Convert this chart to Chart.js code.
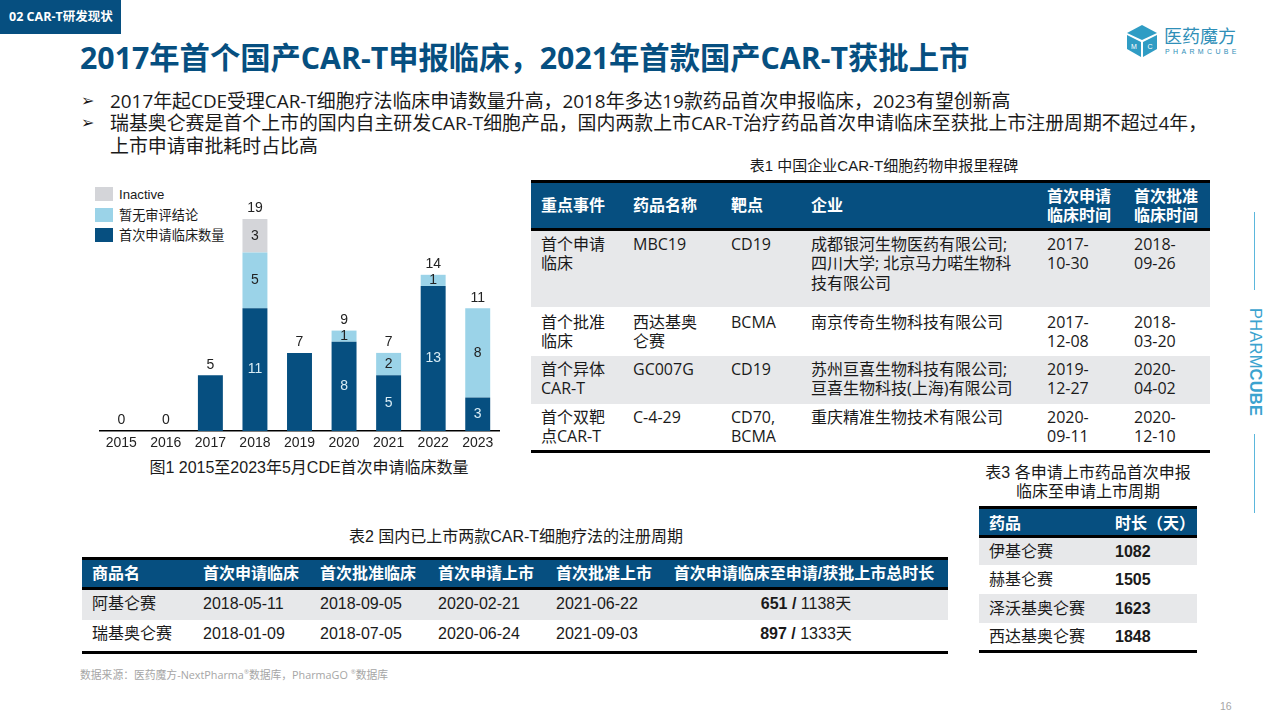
<!DOCTYPE html>
<html lang="zh">
<head>
<meta charset="utf-8">
<script src="https://cdn.jsdelivr.net/npm/chart.js@4"></script>
<style>
  html, body { margin: 0; background: #fff; }
  #page { position: relative; width: 1280px; height: 720px; overflow: hidden; font-family: "Liberation Sans", "Noto Sans CJK SC", sans-serif; color: #1a1a1a; }
  #page > * { position: absolute; }
  .yahei { font-family: "Open Sans", "Noto Sans CJK SC", sans-serif; }
  #tag { left: 0; top: 0; width: 121px; height: 34px; background: #064f80; color: #fff; font-size: 12.5px; font-weight: 700; line-height: 34px; padding-left: 9px; box-sizing: border-box; white-space: nowrap; }
  #title { left: 80px; top: 38px; font-size: 30.3px; font-weight: 700; line-height: 40px; color: #064f80; white-space: nowrap; }
  .bullet { left: 81px; font-size: 16px; line-height: 22px; font-family: "DejaVu Sans", sans-serif; }
  .point { left: 110px; font-size: 18.9px; line-height: 22px; white-space: nowrap; }
  .cap { font-size: 16px; line-height: 19px; text-align: center; white-space: nowrap; }
  table { border-collapse: separate; border-spacing: 0; table-layout: fixed; }
  td, th { padding: 0; text-align: left; font-weight: 400; overflow: hidden; }
  th { background: #064f80; color: #fff; font-weight: 700; border-top: 3px solid #000; border-bottom: 3px solid #000; }
  tr.alt td { background: #e7e8ea; }
  tr:last-child td { border-bottom: 3px solid #000; }
  #t1 td, #t1 th { font-size: 16px; line-height: 19.3px; padding-left: 10px; vertical-align: top; }
  #t1 th { vertical-align: middle; font-size: 16px; padding-top: 1px; }
  #t1 td { padding-top: 4px; box-sizing: border-box; }
  #t1 tr:nth-child(3) td { padding-top: 6px; }
  #t2 td, #t2 th { font-size: 16px; line-height: 20px; padding-left: 10px; vertical-align: middle; white-space: nowrap; }
  #t2 td { padding-bottom: 3px; box-sizing: border-box; }
  #t2 th.c { padding-right: 4px; box-sizing: border-box; }
  #t3 td, #t3 th { font-size: 16px; line-height: 20px; padding-left: 10px; vertical-align: middle; white-space: nowrap; }
  #t3 td { padding-top: 1px; box-sizing: border-box; }
  #t3 th { padding-top: 3px; box-sizing: border-box; }
  .c { text-align: center !important; padding-left: 0 !important; }
  #legend { left: 95px; top: 184px; font-size: 13.2px; }
  #legend div { display: flex; align-items: center; height: 20.4px; white-space: nowrap; }
  #legend i { width: 18px; height: 14px; margin-right: 6px; display: block; }
  #chart { left: 99px; top: 190px; }
</style>
</head>
<body>
<div id="page">
  <div id="tag" class="yahei">02 CAR-T研发现状</div>
  <div id="title" class="yahei">2017年首个国产CAR-T申报临床，2021年首款国产CAR-T获批上市</div>

  <div class="bullet" style="top:90px">➢</div>
  <div class="bullet" style="top:112px">➢</div>
  <div class="point yahei" style="top:90px">2017年起CDE受理CAR-T细胞疗法临床申请数量升高，2018年多达19款药品首次申报临床，2023有望创新高</div>
  <div class="point yahei" style="top:112px">瑞基奥仑赛是首个上市的国内自主研发CAR-T细胞产品，国内两款上市CAR-T治疗药品首次申请临床至获批上市注册周期不超过4年，</div>
  <div class="point yahei" style="top:135px">上市申请审批耗时占比高</div>

  <div id="legend"></div>
  <canvas id="chart" width="401" height="265"></canvas>
  <div class="cap" style="left:99px;width:420px;top:458px">图1 2015至2023年5月CDE首次申请临床数量</div>

  <div class="cap" style="left:531px;width:706px;top:156px;font-size:15px">表1 中国企业CAR-T细胞药物申报里程碑</div>
  <table id="t1" class="yahei" style="left:531px;top:180px;width:679px"></table>

  <div class="cap" style="left:82px;width:868px;top:527px">表2 国内已上市两款CAR-T细胞疗法的注册周期</div>
  <table id="t2" style="left:82px;top:557px;width:866px"></table>

  <div class="cap" style="left:970px;width:236px;top:463px">表3 各申请上市药品首次申报<br>临床至申请上市周期</div>
  <table id="t3" style="left:979px;top:506px;width:218px"></table>

  <div class="yahei" style="left:80px;top:666px;font-size:10.8px;color:#a6a6a6;white-space:nowrap">数据来源：医药魔方-NextPharma<sup style="font-size:6px">®</sup>数据库，PharmaGO <sup style="font-size:6px">®</sup>数据库</div>
  <div style="left:1220px;top:700px;font-size:10.5px;color:#a6a6a6">16</div>

  <!-- logo -->
  <svg style="left:1126px;top:24px" width="32" height="34" viewBox="0 0 32 34">
    <polygon points="16,1 31,9 16,16 1,9" fill="#2f9cc4"/>
    <polygon points="1,11 15,18 15,33 1,25" fill="#2f9cc4"/>
    <polygon points="31,11 17,18 17,33 31,25" fill="#2f9cc4"/>
    <text x="8" y="25" font-size="7" fill="#fff" text-anchor="middle" font-family="Liberation Sans">M</text>
    <text x="24" y="25" font-size="7" fill="#fff" text-anchor="middle" font-family="Liberation Sans">C</text>
  </svg>
  <div style="left:1164px;top:26px;font-size:18px;line-height:22px;color:#2f8fb8;white-space:nowrap">医药魔方</div>
  <div style="left:1165px;top:47px;font-size:7px;line-height:9px;letter-spacing:3.35px;color:#2f8fb8;white-space:nowrap">PHARMCUBE</div>

  <!-- side mark -->
  <div style="left:1254px;top:212px;width:1px;height:78px;background:#5bb7dc"></div>
  <div style="left:1254px;top:434px;width:1px;height:79px;background:#5bb7dc"></div>
  <div style="left:1247px;top:308px;writing-mode:vertical-rl;font-size:16.5px;line-height:17px;color:#3ba3cf;white-space:nowrap;letter-spacing:.2px">PHARM<b>CUBE</b></div>
</div>

<script>
const years = ['2015', '2016', '2017', '2018', '2019', '2020', '2021', '2022', '2023']
const firstApply = [0, 0, 5, 11, 7, 8, 5, 13, 3]
const noResult = [0, 0, 0, 5, 0, 1, 2, 1, 8]
const inactive = [0, 0, 0, 3, 0, 0, 0, 0, 0]
const totals = [0, 0, 5, 19, 7, 9, 7, 14, 11]
// 2017 and 2019 carry no label inside the bar
const firstApplyLabels = [null, null, null, 11, null, 8, 5, 13, 3]

const legendNames = ['Inactive', '暂无审评结论', '首次申请临床数量']
const legendColors = ['#d4d5d9', '#9bd3e8', '#064f80']

const t1Head = ['重点事件', '药品名称', '靶点', '企业', '首次申请<br>临床时间', '首次批准<br>临床时间']
const t1Rows = [
  ['首个申请<br>临床', 'MBC19', 'CD19', '成都银河生物医药有限公司;<br>四川大学; 北京马力喏生物科<br>技有限公司', '2017-<br>10-30', '2018-<br>09-26'],
  ['首个批准<br>临床', '西达基奥<br>仑赛', 'BCMA', '南京传奇生物科技有限公司', '2017-<br>12-08', '2018-<br>03-20'],
  ['首个异体<br>CAR-T', 'GC007G', 'CD19', '苏州亘喜生物科技有限公司;<br>亘喜生物科技(上海)有限公司', '2019-<br>12-27', '2020-<br>04-02'],
  ['首个双靶<br>点CAR-T', 'C-4-29', 'CD70,<br>BCMA', '重庆精准生物技术有限公司', '2020-<br>09-11', '2020-<br>12-10']
]
const t2Head = ['商品名', '首次申请临床', '首次批准临床', '首次申请上市', '首次批准上市', '首次申请临床至申请/获批上市总时长']
const t2Rows = [
  ['阿基仑赛', '2018-05-11', '2018-09-05', '2020-02-21', '2021-06-22', '<b>651 /</b> 1138天'],
  ['瑞基奥仑赛', '2018-01-09', '2018-07-05', '2020-06-24', '2021-09-03', '<b>897 /</b> 1333天']
]
const t3Head = ['药品', '时长（天）']
const t3Rows = [
  ['伊基仑赛', '<b>1082</b>'],
  ['赫基仑赛', '<b>1505</b>'],
  ['泽沃基奥仑赛', '<b>1623</b>'],
  ['西达基奥仑赛', '<b>1848</b>']
]

// fills one table, first row alternates grey
function buildTable(id, widths, heights, head, rows, centerLast) {
  let html = '<colgroup>' + widths.map(w => `<col style="width:${w}px">`).join('') + '</colgroup>'
  html += `<tr style="height:${heights[0]}px">` + head.map((h, i) =>
    `<th class="${centerLast && i == head.length - 1 ? 'c' : ''}">${h}</th>`).join('') + '</tr>'
  rows.forEach((row, r) => {
    html += `<tr class="${r % 2 == 0 ? 'alt' : ''}" style="height:${heights[r + 1]}px">` + row.map((c, i) =>
      `<td class="${centerLast && i == row.length - 1 ? 'c' : ''}">${c}</td>`).join('') + '</tr>'
  })
  document.getElementById(id).innerHTML = html
}

buildTable('t1', [92, 98, 80, 236, 87, 86], [51, 76, 49, 48, 49], t1Head, t1Rows, false)
buildTable('t2', [111, 117, 118, 118, 118, 284], [33, 30, 34], t2Head, t2Rows, true)
buildTable('t3', [126, 92], [32, 27, 29, 29, 30], t3Head, t3Rows, false)

document.getElementById('legend').innerHTML = legendNames.map((n, i) =>
  `<div><i style="background:${legendColors[i]}"></i>${n}</div>`).join('')

const barLabels = {
  id: 'barLabels',
  afterDatasetsDraw(chart) {
    const ctx = chart.ctx
    ctx.save()
    ctx.font = '14px "Liberation Sans"'
    ctx.textAlign = 'center'
    ctx.textBaseline = 'middle'
    const center = (el) => (el.y + el.base) / 2
    chart.getDatasetMeta(0).data.forEach((el, i) => {
      if (firstApplyLabels[i] == null) return
      ctx.fillStyle = '#d9edf5'
      ctx.fillText(firstApplyLabels[i], el.x, center(el))
    })
    ctx.fillStyle = '#222'
    ;[[1, noResult], [2, inactive]].forEach(([d, vals]) => {
      chart.getDatasetMeta(d).data.forEach((el, i) => {
        if (vals[i] > 0) ctx.fillText(vals[i], el.x, center(el))
      })
    })
    // totals above the stack
    years.forEach((y, i) => {
      const x = chart.scales.x.getPixelForValue(i)
      ctx.fillText(totals[i], x, chart.scales.y.getPixelForValue(totals[i]) - 10.5)
    })
    ctx.restore()
  }
}

new Chart(document.getElementById('chart'), {
  type: 'bar',
  data: {
    labels: years,
    datasets: [
      { label: legendNames[2], data: firstApply, backgroundColor: legendColors[2] },
      { label: legendNames[1], data: noResult, backgroundColor: legendColors[1] },
      { label: legendNames[0], data: inactive, backgroundColor: legendColors[0] }
    ]
  },
  options: {
    responsive: false,
    animation: false,
    categoryPercentage: 1,
    barPercentage: 0.56,
    layout: { padding: 0 },
    plugins: { legend: { display: false }, tooltip: { enabled: false } },
    scales: {
      x: {
        stacked: true,
        afterFit: (s) => { s.height = 24 },
        grid: { display: false, drawTicks: false },
        border: { color: '#000', width: 1.5 },
        ticks: { color: '#222', font: { size: 14, family: '"Liberation Sans"' }, padding: 4, maxRotation: 0 }
      },
      y: { stacked: true, display: false, min: 0, max: 21.6 }
    }
  },
  plugins: [barLabels]
})
</script>
</body>
</html>
